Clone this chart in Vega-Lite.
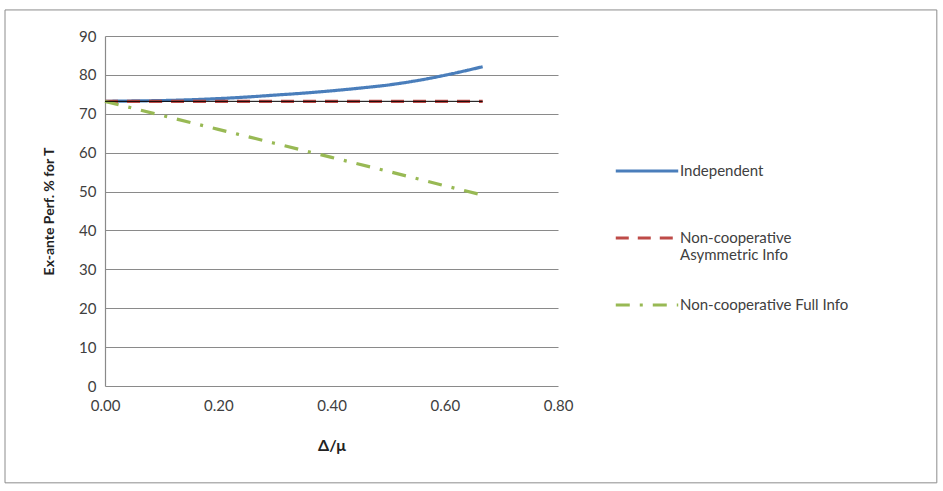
{
  "$schema": "https://vega.github.io/schema/vega-lite/v6.json",
  "autosize": "none",
  "width": 453,
  "height": 350,
  "padding": {"left": 105, "top": 36, "right": 385, "bottom": 105},
  "background": "white",
  "config": {
    "view": {"stroke": null},
    "font": "Lato",
    "axis": {"labelFont": "Lato", "titleFont": "Lato", "labelColor": "#404040", "titleColor": "#222222"},
    "legend": {"labelFont": "Lato"}
  },
  "datasets": {
    "curves": [
      {"ratio": 0.0, "perf": 73.2, "series": "Independent"},
      {"ratio": 0.05, "perf": 73.3, "series": "Independent"},
      {"ratio": 0.1, "perf": 73.4, "series": "Independent"},
      {"ratio": 0.15, "perf": 73.6, "series": "Independent"},
      {"ratio": 0.2, "perf": 73.9, "series": "Independent"},
      {"ratio": 0.25, "perf": 74.3, "series": "Independent"},
      {"ratio": 0.3, "perf": 74.8, "series": "Independent"},
      {"ratio": 0.35, "perf": 75.3, "series": "Independent"},
      {"ratio": 0.4, "perf": 75.9, "series": "Independent"},
      {"ratio": 0.45, "perf": 76.6, "series": "Independent"},
      {"ratio": 0.5, "perf": 77.4, "series": "Independent"},
      {"ratio": 0.55, "perf": 78.5, "series": "Independent"},
      {"ratio": 0.6, "perf": 79.9, "series": "Independent"},
      {"ratio": 0.667, "perf": 82.1, "series": "Independent"},
      {"ratio": 0.0, "perf": 73.2, "series": "Non-cooperative Asymmetric Info"},
      {"ratio": 0.2, "perf": 73.2, "series": "Non-cooperative Asymmetric Info"},
      {"ratio": 0.4, "perf": 73.2, "series": "Non-cooperative Asymmetric Info"},
      {"ratio": 0.6, "perf": 73.2, "series": "Non-cooperative Asymmetric Info"},
      {"ratio": 0.667, "perf": 73.2, "series": "Non-cooperative Asymmetric Info"},
      {"ratio": 0.0, "perf": 73.2, "series": "Non-cooperative Full Info"},
      {"ratio": 0.1, "perf": 69.6, "series": "Non-cooperative Full Info"},
      {"ratio": 0.2, "perf": 66.0, "series": "Non-cooperative Full Info"},
      {"ratio": 0.3, "perf": 62.4, "series": "Non-cooperative Full Info"},
      {"ratio": 0.4, "perf": 58.8, "series": "Non-cooperative Full Info"},
      {"ratio": 0.5, "perf": 55.2, "series": "Non-cooperative Full Info"},
      {"ratio": 0.6, "perf": 51.5, "series": "Non-cooperative Full Info"},
      {"ratio": 0.667, "perf": 49.1, "series": "Non-cooperative Full Info"}
    ],
    "baseline": [
      {"ratio": 0.0, "perf": 73.2},
      {"ratio": 0.667, "perf": 73.2}
    ]
  },
  "layer": [
    {
      "data": {"name": "curves"},
      "mark": {"type": "line", "strokeWidth": 3.2, "interpolate": "monotone"},
      "encoding": {
        "x": {
          "field": "ratio", "type": "quantitative",
          "scale": {"domain": [0, 0.8], "nice": false, "zero": false},
          "axis": {
            "values": [0, 0.2, 0.4, 0.6, 0.8], "tickCount": 5, "format": ".2f",
            "grid": false, "domain": false, "ticks": false, "labelFlush": false,
            "labelPadding": 12, "labelFontSize": 15,
            "title": "Δ/μ", "titleFontSize": 16, "titleFontWeight": "bold", "titlePadding": 24
          }
        },
        "y": {
          "field": "perf", "type": "quantitative",
          "scale": {"domain": [0, 90], "nice": false},
          "axis": {
            "values": [0, 10, 20, 30, 40, 50, 60, 70, 80, 90], "tickCount": 10,
            "grid": true, "gridColor": "#8a8a8a", "gridWidth": 1.2,
            "domain": true, "domainColor": "#8a8a8a", "domainWidth": 1.2, "ticks": false,
            "labelPadding": 9, "labelFontSize": 15, "labelOverlap": false,
            "title": "Ex-ante Perf. % for T", "titleFontSize": 14, "titleFontWeight": "bold", "titlePadding": 22
          }
        },
        "color": {
          "field": "series", "type": "nominal",
          "scale": {
            "domain": ["Independent", "Non-cooperative Asymmetric Info", "Non-cooperative Full Info"],
            "range": ["#4a7ebb", "#be4b48", "#98b954"]
          },
          "legend": {
            "title": null, "orient": "none", "legendX": 509, "legendY": 102,
            "symbolType": "stroke", "symbolSize": 3900, "symbolStrokeWidth": 3.2,
            "labelFontSize": 15, "labelColor": "#404040", "labelOffset": 0,
            "columns": 1, "gridAlign": "all", "rowPadding": 9, "labelLimit": 300,
            "labelBaseline": "middle",
            "labelExpr": "datum.label == 'Non-cooperative Asymmetric Info' ? ['Non-cooperative', 'Asymmetric Info'] : datum.label == 'Non-cooperative Full Info' ? '\u00a0\u00a0Non-cooperative Full Info' : datum.label"
          }
        },
        "strokeDash": {
          "field": "series", "type": "nominal",
          "scale": {
            "domain": ["Independent", "Non-cooperative Asymmetric Info", "Non-cooperative Full Info"],
            "range": [[1, 0], [13, 9], [14, 10, 3, 10]]
          },
          "legend": null
        }
      }
    },
    {
      "data": {"name": "baseline"},
      "mark": {"type": "line", "color": "#000000", "strokeWidth": 1},
      "encoding": {
        "x": {
          "field": "ratio", "type": "quantitative",
          "axis": {
            "values": [0, 0.2, 0.4, 0.6, 0.8], "tickCount": 5, "format": ".2f",
            "grid": false, "domain": false, "ticks": false, "labelFlush": false,
            "labelPadding": 12, "labelFontSize": 15,
            "title": "Δ/μ", "titleFontSize": 16, "titleFontWeight": "bold", "titlePadding": 24
          }
        },
        "y": {
          "field": "perf", "type": "quantitative",
          "axis": {
            "values": [0, 10, 20, 30, 40, 50, 60, 70, 80, 90], "tickCount": 10,
            "grid": true, "gridColor": "#8a8a8a", "gridWidth": 1.2,
            "domain": true, "domainColor": "#8a8a8a", "domainWidth": 1.2, "ticks": false,
            "labelPadding": 9, "labelFontSize": 15, "labelOverlap": false,
            "title": "Ex-ante Perf. % for T", "titleFontSize": 14, "titleFontWeight": "bold", "titlePadding": 22
          }
        }
      }
    },
    {
      "data": {"values": [{}]},
      "mark": {"type": "rect", "filled": false, "stroke": "#8c8c8c", "strokeWidth": 1, "clip": false},
      "encoding": {
        "x": {
          "datum": -0.1766, "type": "quantitative",
          "axis": {
            "values": [0, 0.2, 0.4, 0.6, 0.8], "tickCount": 5, "format": ".2f",
            "grid": false, "domain": false, "ticks": false, "labelFlush": false,
            "labelPadding": 12, "labelFontSize": 15,
            "title": "Δ/μ", "titleFontSize": 16, "titleFontWeight": "bold", "titlePadding": 24
          }
        },
        "x2": {"datum": 1.469},
        "y": {
          "datum": -24.9, "type": "quantitative",
          "axis": {
            "values": [0, 10, 20, 30, 40, 50, 60, 70, 80, 90], "tickCount": 10,
            "grid": true, "gridColor": "#8a8a8a", "gridWidth": 1.2,
            "domain": true, "domainColor": "#8a8a8a", "domainWidth": 1.2, "ticks": false,
            "labelPadding": 9, "labelFontSize": 15, "labelOverlap": false,
            "title": "Ex-ante Perf. % for T", "titleFontSize": 14, "titleFontWeight": "bold", "titlePadding": 22
          }
        },
        "y2": {"datum": 96.7}
      }
    }
  ]
}
